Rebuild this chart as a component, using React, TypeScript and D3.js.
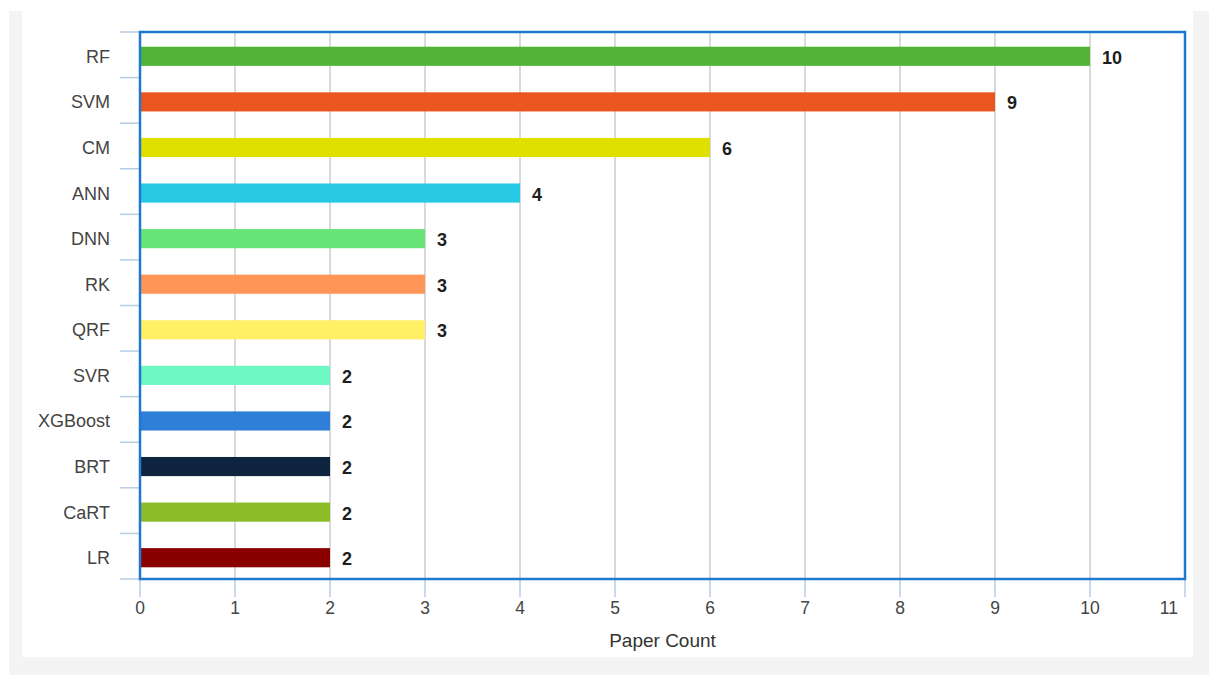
import React from "react";
import * as d3 from "d3";

// Paper counts per model
const categories = ["RF", "SVM", "CM", "ANN", "DNN", "RK", "QRF", "SVR", "XGBoost", "BRT", "CaRT", "LR"];
const counts = [10, 9, 6, 4, 3, 3, 3, 2, 2, 2, 2, 2];
const barColors = [
  "#52b436", "#eb561e", "#dfe000", "#26c8e4", "#66e475", "#ff9657",
  "#fff066", "#6ef8c4", "#2f7fd8", "#0e233d", "#8cbc28", "#8a0000",
];
const xTicks = [0, 1, 2, 3, 4, 5, 6, 7, 8, 9, 10, 11];
const xTitle = "Paper Count";

const W = 1209;
const H = 675;
const plot = { left: 140, right: 1185, top: 32, bottom: 579 };
const FONT = "Liberation Sans, Arial, Helvetica, sans-serif";

export default function App() {
  const x = d3.scaleLinear().domain([0, 11]).range([plot.left, plot.right]);
  const y = d3
    .scaleBand<string>()
    .domain(categories)
    .range([plot.top + 1.5, plot.bottom + 1.5])
    .paddingInner(0.58)
    .paddingOuter(0.29);
  const step = (plot.bottom - plot.top) / categories.length;
  const boundaries = d3.range(categories.length + 1).map((i) => plot.top + i * step);
  const lastTick = xTicks[xTicks.length - 1];

  return (
    <svg
      width={W}
      height={H}
      style={{ position: "absolute", left: 0, top: 0, display: "block" }}
      fontFamily={FONT}
    >
      <rect x={0} y={0} width={W} height={H} fill="#ffffff" />
      <rect x={9} y={11} width={W - 9} height={H - 11} fill="#f4f4f4" />
      <rect x={22} y={11} width={1193 - 22} height={657 - 11} fill="#ffffff" />

      {/* vertical grid */}
      {xTicks.map((t) => (
        <line
          key={"g" + t}
          x1={x(t)}
          x2={x(t)}
          y1={plot.top}
          y2={plot.bottom}
          stroke="#cccccc"
          strokeWidth={1.5}
        />
      ))}

      {/* category tick marks */}
      {boundaries.map((b, i) => (
        <line key={"yt" + i} x1={120} x2={plot.left} y1={b} y2={b} stroke="#b6cde6" strokeWidth={1.5} />
      ))}

      {/* x tick marks */}
      {xTicks.map((t) => (
        <line
          key={"xt" + t}
          x1={x(t)}
          x2={x(t)}
          y1={plot.bottom}
          y2={plot.bottom + 18}
          stroke="#b6cde6"
          strokeWidth={1.5}
        />
      ))}

      {/* bars */}
      {categories.map((c, i) => (
        <rect
          key={c}
          x={x(0)}
          y={y(c)!}
          width={x(counts[i]) - x(0)}
          height={y.bandwidth()}
          fill={barColors[i]}
        />
      ))}

      {/* value labels */}
      {categories.map((c, i) => (
        <text
          key={"v" + c}
          x={x(counts[i]) + 12}
          y={y(c)! + y.bandwidth() / 2 + 1}
          dy="0.36em"
          fontSize={18}
          fontWeight="bold"
          fill="#1e1e1e"
        >
          {counts[i]}
        </text>
      ))}

      {/* category labels */}
      {categories.map((c) => (
        <text
          key={"c" + c}
          x={110}
          y={y(c)! + y.bandwidth() / 2}
          dy="0.36em"
          textAnchor="end"
          fontSize={18}
          fill="#444444"
        >
          {c}
        </text>
      ))}

      {/* x tick labels; the last one is pulled inside the frame */}
      {xTicks.map((t) => (
        <text
          key={"xl" + t}
          x={t === lastTick ? x(t) - 7 : x(t)}
          y={608}
          dy="0.36em"
          textAnchor={t === lastTick ? "end" : "middle"}
          fontSize={17.5}
          fill="#444444"
        >
          {t}
        </text>
      ))}

      <text
        x={(plot.left + plot.right) / 2}
        y={640}
        dy="0.36em"
        textAnchor="middle"
        fontSize={19}
        fill="#333333"
      >
        {xTitle}
      </text>

      {/* plot frame */}
      <rect
        x={plot.left}
        y={plot.top}
        width={plot.right - plot.left}
        height={plot.bottom - plot.top}
        fill="none"
        stroke="#1f78cf"
        strokeWidth={2.5}
      />
    </svg>
  );
}
